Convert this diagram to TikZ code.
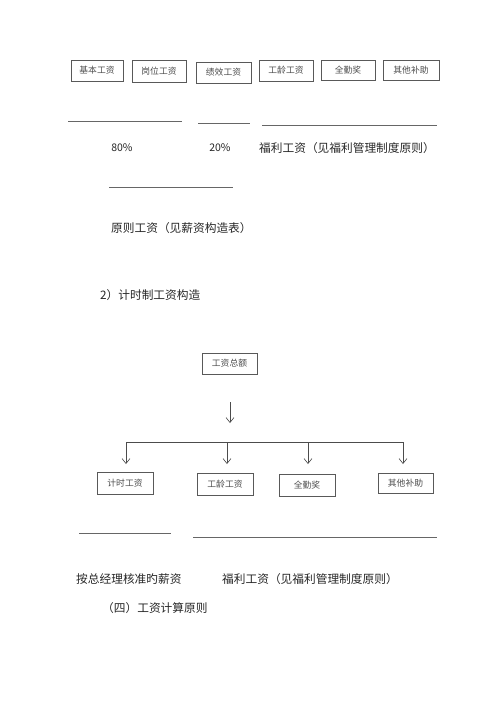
\documentclass[tikz,border=0pt]{standalone}
\usepackage{fontspec}
\setmainfont{Noto Sans CJK SC}
\usetikzlibrary{arrows.meta}
\begin{document}
\begin{tikzpicture}[x=1pt,y=-1pt,
  box/.style={draw=black!65,line width=0.6pt,inner sep=0pt,font=\fontsize{8.8}{9}\selectfont,text=black!70},
  blank/.style={draw=black!60,line width=0.7pt},
  txt/.style={inner sep=0pt,anchor=west,font=\fontsize{11.7}{12}\selectfont,text=black!85},
  conn/.style={draw=black!70,line width=0.6pt},
  arr/.style={conn,-{Straight Barb[length=5pt,width=8pt]}}]
\useasboundingbox (0,0) rectangle (500,707);
% top boxes
\node[box,minimum width=52pt,minimum height=21pt] (t1) at (97,70.5) {\raisebox{-3pt}{基本工资}};
\node[box,minimum width=54pt,minimum height=22pt] (t2) at (159,71) {\raisebox{-3pt}{岗位工资}};
\node[box,minimum width=55pt,minimum height=21pt] (t3) at (223.5,72.5) {\raisebox{-3pt}{绩效工资}};
\node[box,minimum width=54pt,minimum height=21pt] (t4) at (286,70.5) {\raisebox{-3pt}{工龄工资}};
\node[box,minimum width=54pt,minimum height=20pt] (t5) at (348,70) {\raisebox{-3pt}{全勤奖}};
\node[box,minimum width=56pt,minimum height=20pt] (t6) at (411,70) {\raisebox{-3pt}{其他补助}};
% blanks row 1
\coordinate (l1a) at (68,121); \coordinate (l1b) at (182,121);
\coordinate (l2a) at (198,123); \coordinate (l2b) at (250,123);
\coordinate (l3a) at (262,125); \coordinate (l3b) at (437,125);
\draw[blank] (l1a) -- (l1b);
\draw[blank] (l2a) -- (l2b);
\draw[blank] (l3a) -- (l3b);
\node[txt,anchor=center,font=\fontsize{10.5}{12}\selectfont] (p80) at (122,148) {80\%};
\node[txt,anchor=center,font=\fontsize{10.5}{12}\selectfont] (p20) at (220,148) {20\%};
\node[txt] (fl1) at (259,148) {福利工资（见福利管理制度原则）};
% blank row 2
\coordinate (l4a) at (109,187); \coordinate (l4b) at (233,187);
\draw[blank,line width=0.9pt] (l4a) -- (l4b);
\node[txt] (yz) at (111,228) {原则工资（见薪资构造表）};
\node[txt] (h2) at (100,295) {2）计时制工资构造};
% second diagram
\node[box,minimum width=55pt,minimum height=21pt] (tot) at (229.5,363.5) {\raisebox{-3pt}{工资总额}};
\coordinate (aa) at (230,402); \coordinate (ab) at (230,423);
\draw[arr] (aa) -- (ab);
\coordinate (h1) at (126,442); \coordinate (h2r) at (403,442);
\coordinate (m2) at (227,442); \coordinate (m3) at (308,442);
\draw[conn] (h1) -- (h2r);
\node[box,minimum width=56pt,minimum height=22pt] (b1) at (125,483) {\raisebox{-3pt}{计时工资}};
\node[box,minimum width=56pt,minimum height=22pt] (b2) at (225,484) {\raisebox{-3pt}{工龄工资}};
\node[box,minimum width=56pt,minimum height=22pt] (b3) at (307,485) {\raisebox{-3pt}{全勤奖}};
\node[box,minimum width=55pt,minimum height=20pt] (b4) at (405.5,483) {\raisebox{-3pt}{其他补助}};
\coordinate (e1) at (126,464); \coordinate (e2) at (227,464);
\coordinate (e3) at (308,464); \coordinate (e4) at (403,464);
\draw[arr] (h1) -- (e1);
\draw[arr] (m2) -- (e2);
\draw[arr] (m3) -- (e3);
\draw[arr] (h2r) -- (e4);
% blank row 3
\coordinate (l5a) at (79,533); \coordinate (l5b) at (171,533);
\coordinate (l6a) at (193,537); \coordinate (l6b) at (437,537);
\draw[blank,line width=0.9pt] (l5a) -- (l5b);
\draw[blank,line width=0.9pt] (l6a) -- (l6b);
\node[txt] (zj) at (76,579) {按总经理核准旳薪资};
\node[txt] (fl2) at (222,579) {福利工资（见福利管理制度原则）};
\node[txt] (s4) at (102,608) {（四）工资计算原则};
\end{tikzpicture}
\end{document}
